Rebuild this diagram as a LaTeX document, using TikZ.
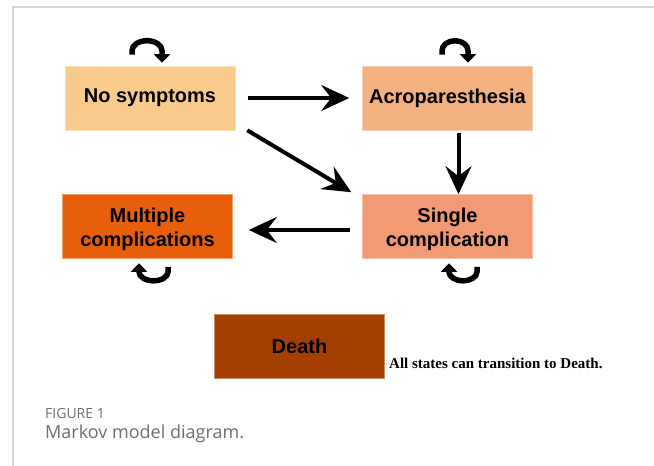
\documentclass[tikz,border=0pt]{standalone}
\usepackage{fontspec}
\setmainfont{Liberation Sans}
\newfontfamily\timesbf{Liberation Serif}
\newfontfamily\capfont{Open Sans}
\usetikzlibrary{arrows.meta}
\definecolor{cNo}{HTML}{F8CB8D}
\definecolor{cAcro}{HTML}{F2B17E}
\definecolor{cSingle}{HTML}{F19A73}
\definecolor{cMulti}{HTML}{E85F0B}
\definecolor{cDeath}{HTML}{A43F00}
\definecolor{cFrame}{HTML}{D4D4D4}
\definecolor{cCap}{HTML}{6E6E6E}
\newcommand{\twolines}[2]{\raisebox{-3.5pt}[\height][\depth]{\begin{tabular}{@{}c@{}}#1\\#2\end{tabular}}}
\begin{document}
\begin{tikzpicture}[x=1pt,y=1pt,
  state/.style={minimum width=170pt, minimum height=64pt, inner sep=0pt, align=center, text=black,
    font=\bfseries\fontsize{20}{24}\selectfont},
  bigarrow/.style={line width=4pt, -{Stealth[length=28pt,width=26pt,inset=10pt]}},
  selfloop/.style={line width=5.5pt, -{Triangle[length=8.5pt,width=16pt]}}]
\useasboundingbox (0,0) rectangle (654,-466);
\draw[cFrame, line width=1.5pt] (654,-7) -- (13,-7) -- (13,-466);

\node[state, fill=cNo, draw=cNo!60!white, line width=0.6pt] (ns) at (150,-98) {No symptoms};
\node[state, fill=cAcro, draw=cAcro!60!white, line width=0.6pt] (acro) at (447.5,-98) {Acroparesthesia};
\node[state, fill=cSingle, draw=cSingle!60!white, line width=0.6pt] (single) at (447.5,-226.5) {\twolines{Single}{complication}};
\node[state, fill=cMulti, draw=cMulti!60!white, line width=0.6pt] (multi) at (147.5,-226.5) {\twolines{Multiple}{complications}};
\node[state, fill=cDeath, draw=cDeath!60!white, line width=0.6pt] (death) at (299.5,-346) {Death};

\node[anchor=base west, inner sep=0pt, font=\timesbf\bfseries\fontsize{15}{18}\selectfont] (note) at (389,-368) {All states can transition to Death.};

\node[anchor=base west, inner sep=0pt, text=cCap, font=\capfont\fontsize{14}{16}\selectfont] (fig) at (45,-418) {FIGURE 1};
\node[anchor=base west, inner sep=0pt, text=cCap, font=\capfont\fontsize{18}{20}\selectfont] (cap) at (45,-438) {Markov model diagram.};

\draw[bigarrow, shorten <=13pt, shorten >=13pt] (ns) -- (acro);
\draw[bigarrow, shorten <=3pt] ([xshift=11pt]acro.south) -- ([xshift=11pt]single.north);
\draw[bigarrow, shorten <=12pt, shorten >=16pt] ([yshift=-3.5pt]single.west) -- ([yshift=-3.5pt]multi.east);
\draw[bigarrow] ([xshift=12pt]ns.south east) -- ([xshift=-11pt,yshift=2pt]single.north west);

\draw[selfloop] ([xshift=-18pt,yshift=11pt]ns.north) -- ++(0,4)
  arc[start angle=180,end angle=0,x radius=15pt,y radius=10pt] -- ++(0,-12);
\draw[selfloop] ([xshift=-5.5pt,yshift=11pt]acro.north) -- ++(0,4)
  arc[start angle=180,end angle=0,x radius=13pt,y radius=10pt] -- ++(0,-12);
\draw[selfloop] ([xshift=20.5pt,yshift=-8pt]multi.south) -- ++(0,-5)
  arc[start angle=0,end angle=-180,x radius=14.5pt,y radius=9pt] -- ++(0,8.5);
\draw[selfloop] ([xshift=29.5pt,yshift=-8pt]single.south) -- ++(0,-5)
  arc[start angle=0,end angle=-180,x radius=14pt,y radius=9pt] -- ++(0,8.5);
\end{tikzpicture}
\end{document}
